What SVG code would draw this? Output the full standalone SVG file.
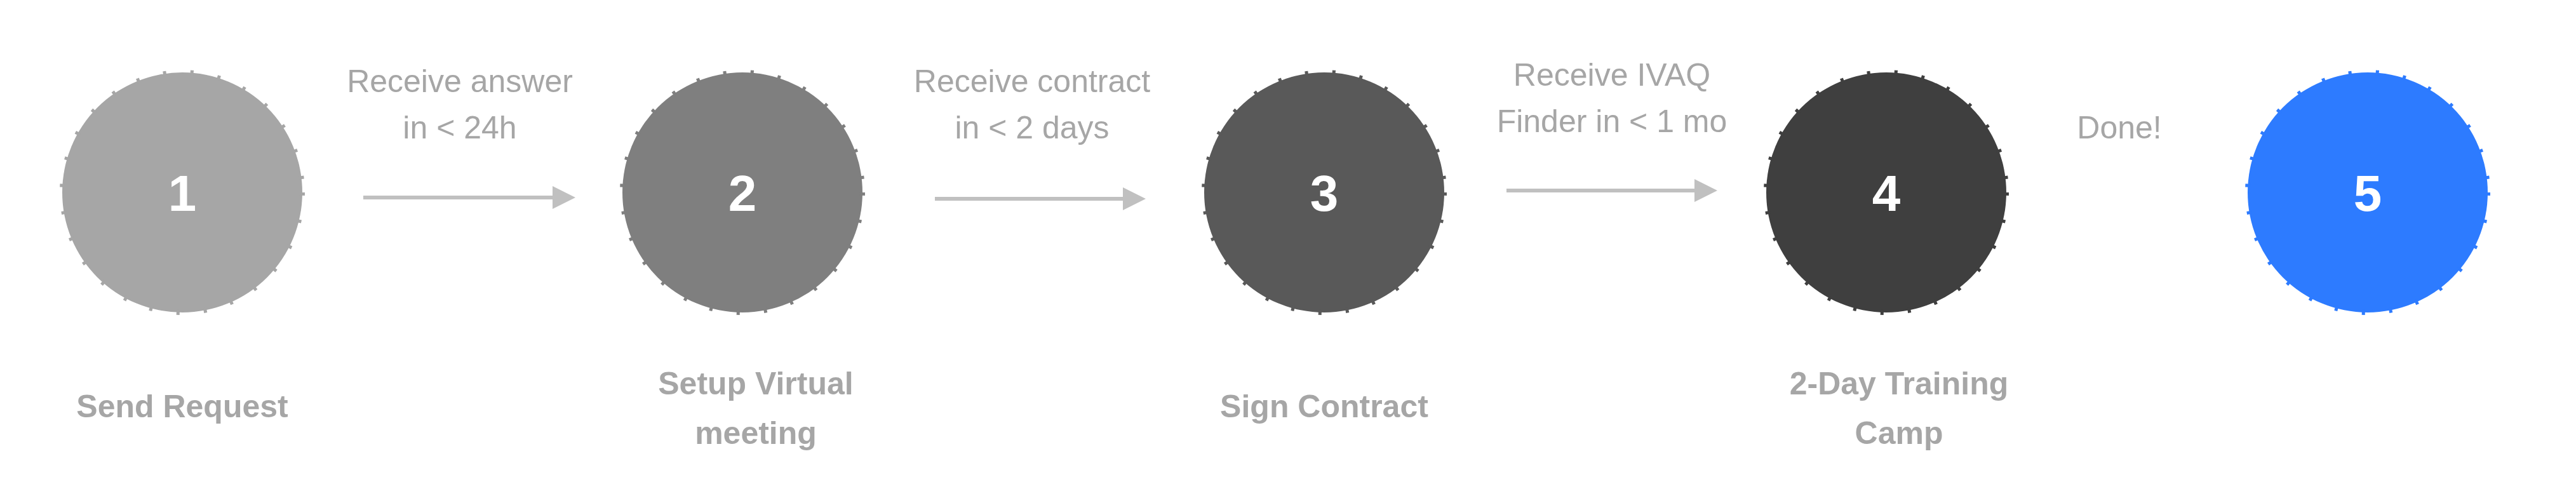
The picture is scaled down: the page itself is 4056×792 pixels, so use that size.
<svg xmlns="http://www.w3.org/2000/svg" width="4056" height="792" viewBox="0 0 4056 792">
<style>
.c{stroke-width:8;stroke-dasharray:5 38}
.n{font-family:"Liberation Sans",Arial,sans-serif;font-weight:bold;font-size:80px;fill:#fff;text-anchor:middle}
.l{font-family:"Liberation Sans",Arial,sans-serif;font-weight:bold;font-size:50px;fill:#a6a6a6;text-anchor:middle}
.e{font-family:"Liberation Sans",Arial,sans-serif;font-size:50px;fill:#a6a6a6;text-anchor:middle}
.a{stroke:#c0c0c0;stroke-width:6;fill:none}
</style>
<defs><marker id="ah" markerWidth="6" markerHeight="6" refX="5" refY="3" orient="auto" markerUnits="strokeWidth"><path d="M0,0L6,3L0,6Z" fill="#c0c0c0"/></marker></defs>
<rect width="4056" height="792" fill="#fff"/>
<g id="n1"><circle class="c" cx="287" cy="303" r="189" fill="#a6a6a6" stroke="#a6a6a6"/><text class="n" x="287" y="332">1</text><text class="l" x="287" y="657">Send Request</text></g>
<g id="n2"><circle class="c" cx="1169" cy="303" r="189" fill="#7f7f7f" stroke="#7f7f7f"/><text class="n" x="1169" y="332">2</text><text class="l" x="1190" y="621">Setup Virtual</text><text class="l" x="1190" y="699">meeting</text></g>
<g id="n3"><circle class="c" cx="2085" cy="303" r="189" fill="#595959" stroke="#595959"/><text class="n" x="2085" y="332">3</text><text class="l" x="2085" y="657">Sign Contract</text></g>
<g id="n4"><circle class="c" cx="2970" cy="303" r="189" fill="#3f3f3f" stroke="#3f3f3f"/><text class="n" x="2970" y="332">4</text><text class="l" x="2990" y="621">2-Day Training</text><text class="l" x="2990" y="699">Camp</text></g>
<g id="n5"><circle class="c" cx="3728" cy="303" r="189" fill="#2d7bff" stroke="#2d7bff"/><text class="n" x="3728" y="332">5</text></g>
<g id="connectors">
<line class="a" x1="572" y1="311" x2="900" y2="311" marker-end="url(#ah)"/>
<line class="a" x1="1472" y1="313" x2="1798" y2="313" marker-end="url(#ah)"/>
<line class="a" x1="2372" y1="300" x2="2698" y2="300" marker-end="url(#ah)"/>
<text class="e" x="724" y="145">Receive answer</text><text class="e" x="724" y="218">in &lt; 24h</text>
<text class="e" x="1625" y="145">Receive contract</text><text class="e" x="1625" y="218">in &lt; 2 days</text>
<text class="e" x="2538" y="135">Receive IVAQ</text><text class="e" x="2538" y="208">Finder in &lt; 1 mo</text>
<text class="e" x="3337" y="218">Done!</text>
</g>
</svg>
